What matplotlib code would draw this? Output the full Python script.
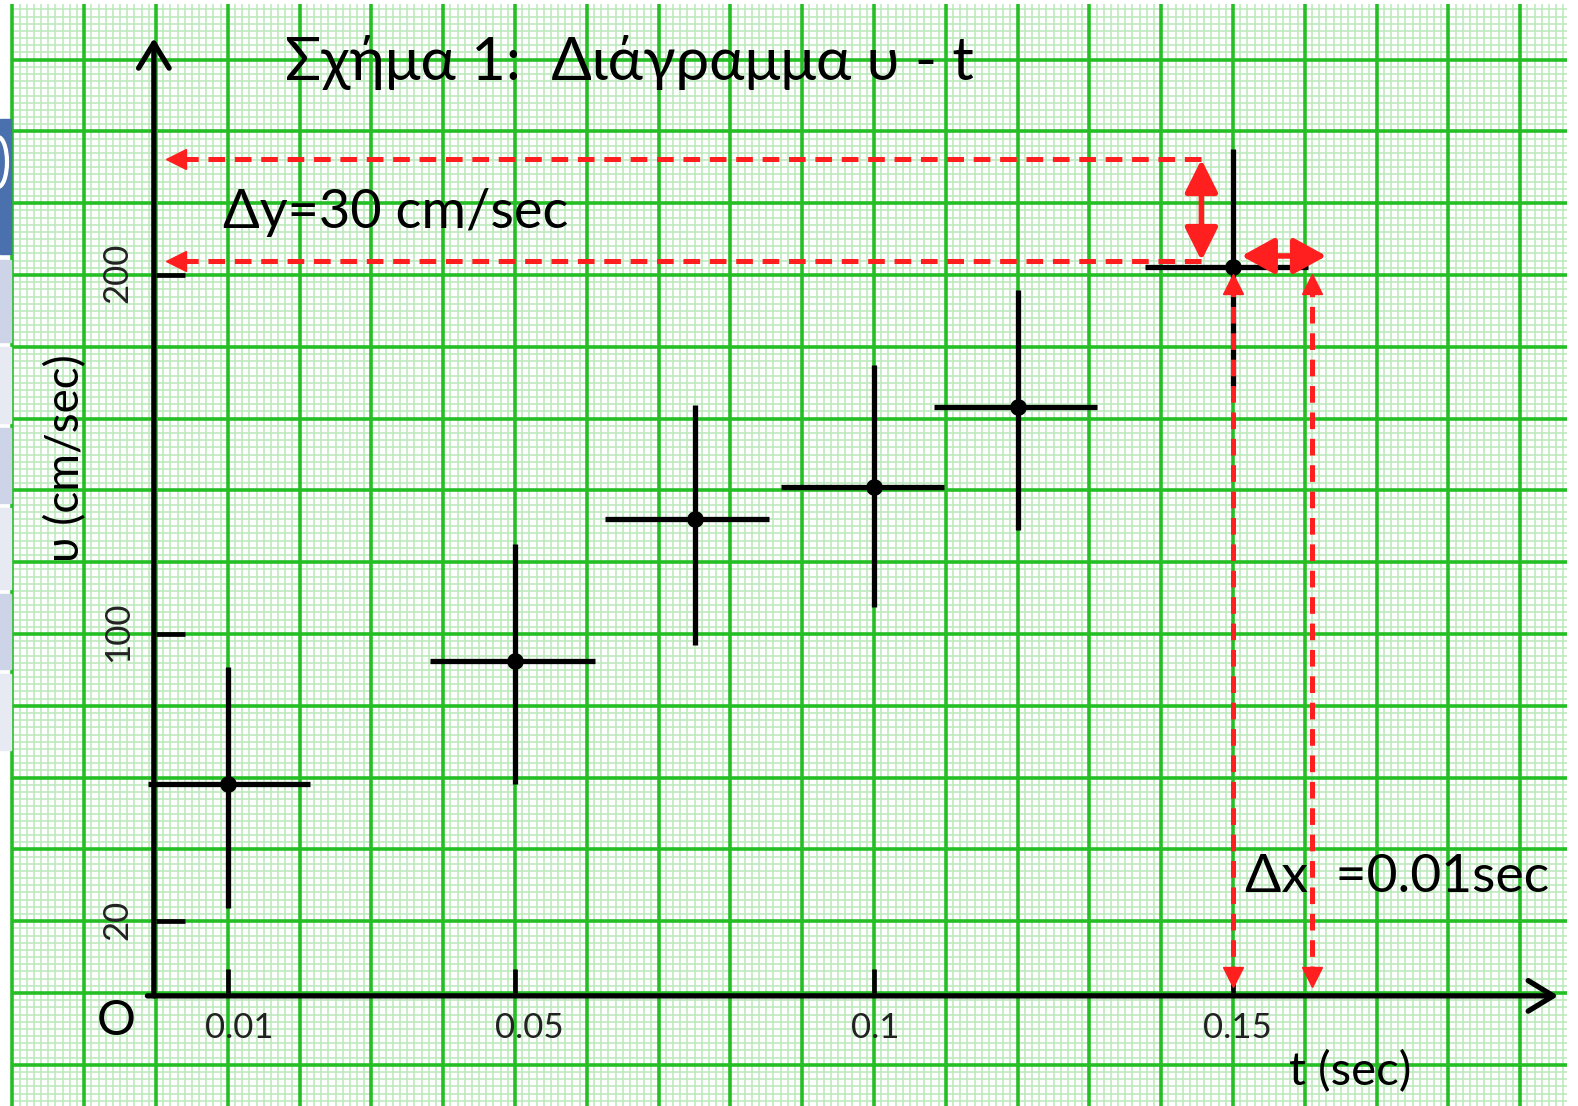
import numpy as np
import matplotlib.pyplot as plt
from matplotlib.patches import Rectangle, Ellipse

plt.rcParams['font.family'] = ['Lato', 'Open Sans', 'DejaVu Sans']
plt.rcParams['lines.scale_dashes'] = False

# measured points: time (s), speed (cm/s)
t = [0.01, 0.05, 0.075, 0.10, 0.12, 0.15]
v = [58.2, 92.4, 131.9, 140.9, 163.1, 202.3]
t_err_lo = [0.0111, 0.0118, 0.0125, 0.0129, 0.0116, 0.0122]
t_err_hi = [0.0114, 0.0111, 0.0104, 0.0098, 0.0111, 0.0105]
v_err_dn = [34.5, 34.2, 35.0, 33.4, 34.2, 33.9]
v_err_up = [32.5, 32.8, 32.0, 33.9, 32.8, 32.8]

xticks = [0.01, 0.05, 0.1, 0.15]
xtick_labels = ['0.01', '0.05', '0.1', '0.15']
yticks = [20, 100, 200]
ytick_labels = ['20', '100', '200']

# slope-triangle annotation
dy = 30
dx = 0.01
dy_levels = [204.0, 232.2]
dx_lines = [0.15005, 0.1610]

red = '#ff1f1f'
major_c = '#25bf25'
minor_c = '#bfe9bf'

W, H = 1578, 1106
PX_T = 7180.0   # px per second
PX_V = 3.59     # px per cm/s
x0, y0 = 156, 993  # pixel of origin

fig = plt.figure(figsize=(W / 100, H / 100), dpi=100)
ax = fig.add_axes([0, 0, 1, 1])
ax.set_xlim(-x0 / PX_T, (W - x0) / PX_T)
ax.set_ylim(-(H - y0) / PX_V, y0 / PX_V)
ax.axis('off')

# graph paper
g_t0, g_t1 = -0.0201, (1567 - x0) / PX_T
g_v0, g_v1 = -(H - y0) / PX_V, (y0 - 4) / PX_V
kt = np.arange(-20, 197)
kv = np.arange(-15, 138)
ax.vlines(kt[kt % 10 != 0] * 0.001, g_v0, g_v1, colors=minor_c, lw=1.2, zorder=0)
ax.hlines(kv[kv % 10 != 0] * 2.0, g_t0, g_t1, colors=minor_c, lw=1.2, zorder=0)
ax.vlines(kt[kt % 10 == 0] * 0.001, g_v0, g_v1, colors=major_c, lw=2.6, zorder=1)
ax.hlines(kv[kv % 10 == 0] * 2.0, g_t0, g_t1, colors=major_c, lw=2.6, zorder=1)

# leftover slide bits on the left edge
fig.add_artist(Rectangle((0, H - 254), 11, 135, transform=None, color='#4a70ad', zorder=10))
fig.add_artist(Ellipse((-2, H - 162), 18, 50, transform=None, fill=False, ec='white', lw=3, zorder=11))
boxes = [(260, 342, '#cdd4e7'), (347, 423, '#e7eaf3'), (428, 503, '#cdd4e7'),
         (508, 589, '#e7eaf3'), (594, 669, '#cdd4e7'), (674, 750, '#e7eaf3')]
for ya, yb, c in boxes:
    fig.add_artist(Rectangle((0, H - yb), 11, yb - ya, transform=None, color=c, zorder=10))

# axes with arrows
ax_lw = 3.8
ax.annotate('', xy=(-0.0003, 266), xytext=(-0.0003, -0.8),
            arrowprops=dict(arrowstyle='->,head_length=0.9,head_width=0.55', lw=ax_lw, color='k',
                            shrinkA=0, shrinkB=0, mutation_scale=20), zorder=3)
ax.annotate('', xy=(0.1953, -0.8), xytext=(-0.0012, -0.8),
            arrowprops=dict(arrowstyle='->,head_length=0.9,head_width=0.55', lw=ax_lw, color='k',
                            shrinkA=0, shrinkB=0, mutation_scale=20), zorder=3)
ax.vlines(xticks, 0, 6.7, colors='k', lw=3.4, zorder=3)
ax.hlines(yticks, 0, 0.004, colors='k', lw=3.4, zorder=3)

ax.errorbar(t, v, xerr=[t_err_lo, t_err_hi], yerr=[v_err_dn, v_err_up], fmt='o', color='k',
            ms=11, elinewidth=3.8, capsize=0, zorder=3)

# red construction lines
for lv in dy_levels:
    ax.plot([0.1456, 0.0025], [lv, lv], color=red, lw=3.6, dashes=(12, 7), zorder=4)
    ax.plot(0.0028, lv, marker='<', ms=14, color=red, mec=red, zorder=4)
for lt in dx_lines:
    ax.plot([lt, lt], [198.5, 4], color=red, lw=3.6, dashes=(12, 7), zorder=4)
    ax.plot(lt, 197.5, marker='^', ms=14, color=red, mec=red, zorder=4)
    ax.plot(lt, 4.4, marker='v', ms=14, color=red, mec=red, zorder=4)

ax.annotate('', xy=(0.1456, dy_levels[1]), xytext=(0.1456, dy_levels[0]),
            arrowprops=dict(arrowstyle='<|-|>,head_length=1.0,head_width=0.5', lw=4, color=red,
                            shrinkA=0, shrinkB=0, mutation_scale=20), zorder=4)
ax.annotate('', xy=(0.1630, 205.3), xytext=(0.1512, 205.3),
            arrowprops=dict(arrowstyle='<|-|>,head_length=1.0,head_width=0.55', lw=4, color=red,
                            shrinkA=0, shrinkB=0, mutation_scale=20), zorder=4)

# text
ax.text(0.06588, 259.3, 'Σχήμα 1:  Διάγραμμα υ - t', fontsize=43, ha='center', va='center', zorder=5)
ax.text(0.00933, 217.3, 'Δy=%d cm/sec' % dy, fontsize=39, ha='left', va='center', zorder=5)
ax.text(0.1517, 32.1, 'Δx  =%.2fsec' % dx, fontsize=38.5, ha='left', va='center', zorder=5)
ax.text(-0.00561, -7.9, 'O', fontsize=35, ha='center', va='center', zorder=5)
for xt, lab, off in zip(xticks, xtick_labels, [0.0016, 0.002, 0.0002, 0.0006]):
    ax.text(xt + off, -9.7, lab, fontsize=25, ha='center', va='center', color='#222222', zorder=5)
for yt, lab in zip(yticks, ytick_labels):
    ax.text(-0.00533, yt + 0.5, lab, fontsize=25, ha='center', va='center', rotation=90,
            color='#222222', zorder=5)
ax.text(-0.01262, 149, 'υ (cm/sec)', fontsize=33, ha='center', va='center', rotation=90, zorder=5)
ax.text(0.1663, -22, 't (sec)', fontsize=34, ha='center', va='center', zorder=5)

fig.savefig('out.png', dpi=100)
